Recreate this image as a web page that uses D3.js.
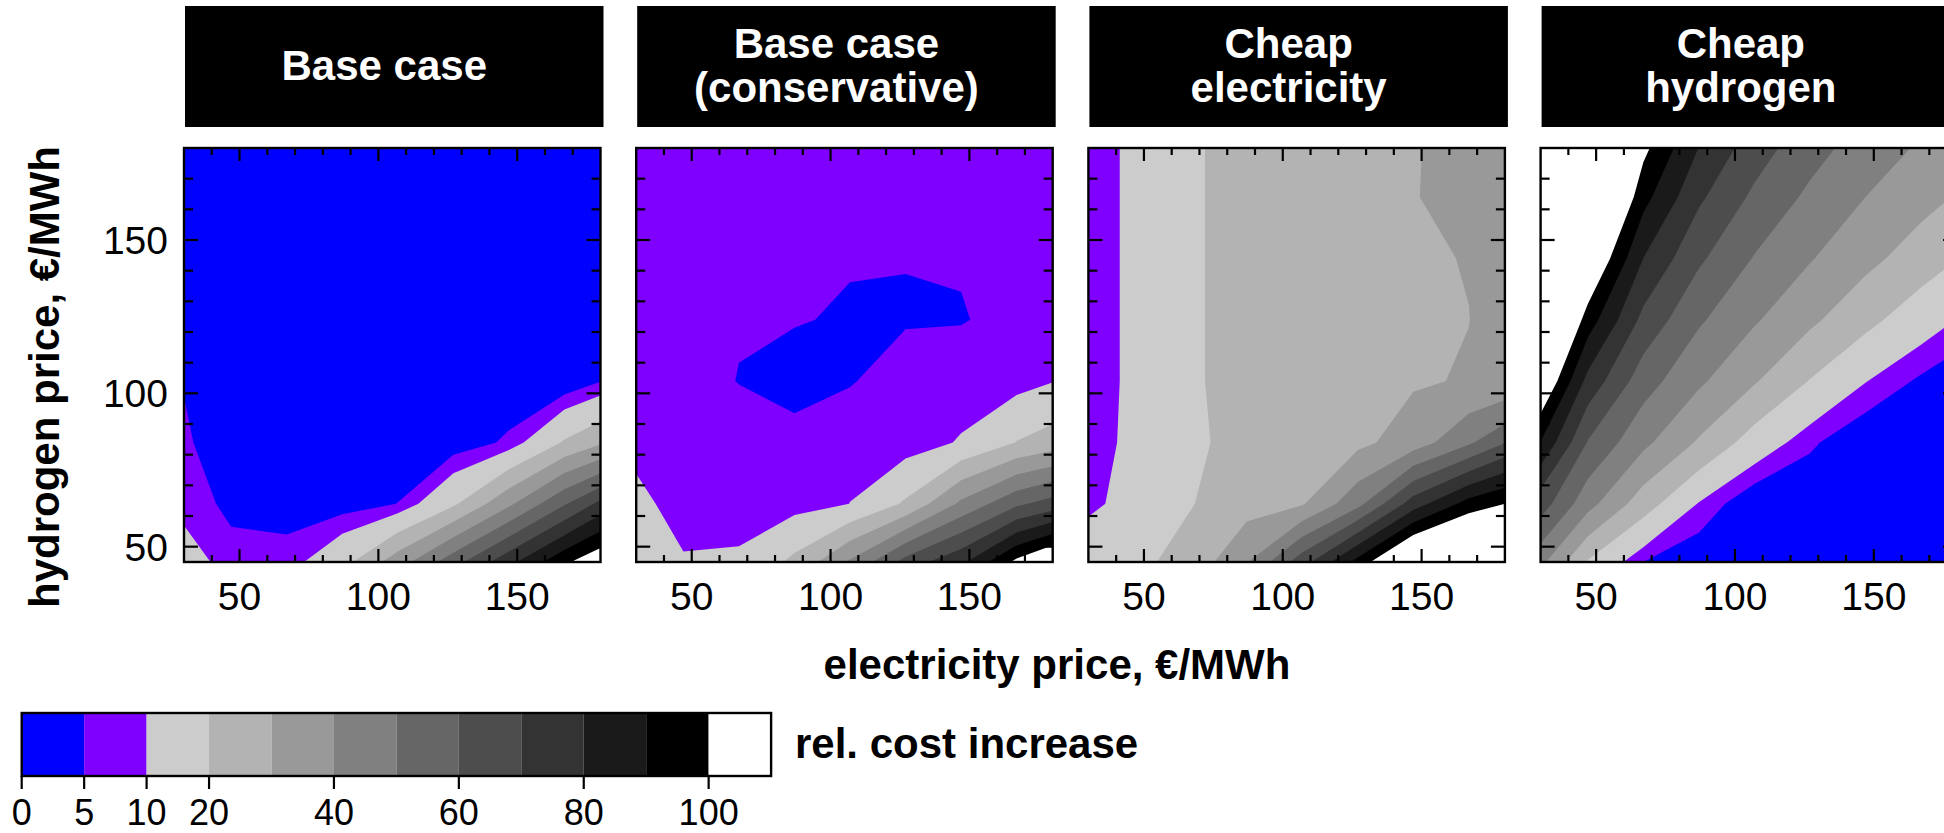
<!DOCTYPE html>
<html>
<head>
<meta charset="utf-8">
<script src="https://cdn.jsdelivr.net/npm/d3@7"></script>
<style>
  body { margin: 0; background: #fff; }
  svg { display: block; }
  text { font-family: "Liberation Sans", Arial, Helvetica, sans-serif; }
</style>
</head>
<body>
<svg id="chart" width="1944" height="833"></svg>
<script>
// Sampling grid of the scenario runs (electricity price / hydrogen price, EUR/MWh)
const elecGrid = [27, 47, 67, 87, 107, 127, 147, 167, 187];
const hydroGrid = [44, 64, 84, 104, 124, 144, 164, 184];

// Relative cost increase (%) on the grid; one row per hydrogen price, low to high
const baseCase = [
  [15, 7.5, 7.5, 18, 37, 58, 79, 100, 115],
  [9, 3.5, 2.5, 2.3, 5.1, 18.3, 38, 59, 80],
  [6.5, 1.8, 1.2, 1.0, 1.2, 1.65, 6, 21, 33],
  [5.3, 2, 1, 0.8, 0.8, 0.8, 1, 0.5, 7.1],
  [3.5, 1.5, 1, 0.8, 0.8, 0.8, 0.8, 1, 3],
  [3, 1.5, 1, 1, 1, 1, 1, 1, 2.5],
  [3, 1.5, 1, 1, 1, 1, 1, 1, 2.5],
  [3, 1.5, 1, 1, 1, 1, 1, 1, 2.5]
];
const baseCaseConservative = [
  [15, 10.85, 11.2, 23.2, 43, 66, 80, 105, 125],
  [13, 7, 7.3, 7, 10.05, 21.3, 42, 58, 68],
  [8.7, 7, 7.4, 5.9, 8.5, 6.0, 10.7, 20.3, 27],
  [7.5, 7, 4.86, 4.0, 4.6, 7.7, 6.0, 7, 11.2],
  [7, 6.5, 5.33, 5.15, 4.75, 4.5, 4.9, 5.5, 7],
  [7, 7, 6.5, 6, 5.16, 5.17, 5.12, 6, 7],
  [7, 7, 7, 7, 7, 7, 7, 7, 7],
  [7, 7, 7, 7, 7, 7, 7, 7, 7]
];
const cheapElectricity = [
  [13.3, 17.95, 23.8, 40.5, 68, 96, 124, 132.7, 150],
  [8.5, 11.8, 19.6, 25.7, 29.1, 46.8, 75, 94, 103.2],
  [8, 11, 18.5, 22.8, 25.5, 27.6, 34.7, 48.3, 65.6],
  [8, 10.8, 19, 23, 25, 27.5, 29, 30.7, 34],
  [8, 10.8, 19, 23, 25, 27.5, 29.3, 29.9, 35],
  [8, 10.8, 19, 23, 25, 27.5, 29, 30.3, 34],
  [8, 10.8, 19, 23, 25, 27.5, 29.8, 31.5, 33],
  [8, 10.8, 19, 23, 25, 27.5, 29.7, 31.5, 33]
];
const cheapHydrogen = [
  [45.6, 17.9, 4, 0, 0, 0, 0, 0, 0],
  [69, 43.6, 24.6, 9.5, 0, 0, 0, 0, 0],
  [95, 59.4, 42.4, 28.8, 15.5, 6.1, 0, 0, 0],
  [119, 76.9, 54.5, 41.7, 30.9, 19.6, 10.3, 3.9, 0],
  [138, 95.3, 67.2, 51.4, 41.1, 32, 22.8, 14.2, 7.4],
  [160, 113.5, 79.9, 61.7, 49.4, 40.7, 32.8, 25.2, 17.6],
  [180, 131.7, 93.4, 71.8, 58.0, 48, 40, 33.4, 27],
  [200, 150, 105, 81.8, 66.6, 55.3, 46.8, 40.1, 33.9]
];

const scenarios = [baseCase, baseCaseConservative, cheapElectricity, cheapHydrogen];
const scenarioTitles = [["Base case"], ["Base case", "(conservative)"], ["Cheap", "electricity"], ["Cheap", "hydrogen"]];

// Contour levels and fills (last band: above 100 %)
const levels = [0, 5, 10, 20, 30, 40, 50, 60, 70, 80, 90, 100];
const levelColors = ["#0000ff", "#8000ff", "#cccccc", "#b3b3b3", "#999999", "#808080",
                     "#666666", "#4d4d4d", "#333333", "#1a1a1a", "#000000", "#ffffff"];
const colorbarTicks = [0, 5, 10, 20, 40, 60, 80, 100];

const xDomain = [30, 180], yDomain = [45, 180];
const xMajor = [50, 100, 150], yMajor = [50, 100, 150];
const xMinor = d3.range(40, 171, 10), yMinor = d3.range(50, 171, 10);

const xTitle = "electricity price, \u20ac/MWh";
const yTitle = "hydrogen price, \u20ac/MWh";
const legendTitle = "rel. cost increase";

// ---- layout ----
const svg = d3.select("#chart");
const panelLeft0 = 184, panelStep = 452.2, panelW = 416.5;
const panelTop = 148, panelH = 414;
const stripTop = 6, stripH = 121;
const FONT_BOLD = 42;

const x = d3.scaleLinear().domain(xDomain).range([0, panelW]);
const y = d3.scaleLinear().domain(yDomain).range([panelH, 0]);
// contour grid coordinates -> prices (each sample sits at the centre of its cell)
const gx = d3.scaleLinear().domain([0.5, elecGrid.length - 0.5]).range([elecGrid[0], elecGrid[elecGrid.length - 1]]);
const gy = d3.scaleLinear().domain([0.5, hydroGrid.length - 0.5]).range([hydroGrid[0], hydroGrid[hydroGrid.length - 1]]);

const contourPath = d3.geoPath(d3.geoTransform({
  point(px, py) { this.stream.point(x(gx(px)), y(gy(py))); }
}));

const contourGen = d3.contours()
  .size([elecGrid.length, hydroGrid.length])
  .thresholds(levels);

scenarios.forEach((grid, p) => {
  const left = panelLeft0 + p * panelStep;

  // strip header
  const strip = svg.append("g").attr("transform", `translate(${left + 1},${stripTop})`);
  strip.append("rect").attr("width", panelW + 2).attr("height", stripH).attr("fill", "#000");
  const lines = scenarioTitles[p];
  const lineGap = 44;
  const firstBase = lines.length === 1 ? 74 : 52;
  lines.forEach((t, i) => {
    strip.append("text")
      .attr("x", (panelW + 2) / 2 - 10)
      .attr("y", firstBase + i * lineGap)
      .attr("text-anchor", "middle")
      .attr("fill", "#fff")
      .attr("font-weight", "bold")
      .attr("font-size", FONT_BOLD)
      .text(t);
  });

  const g = svg.append("g").attr("transform", `translate(${left},${panelTop})`);
  const clipId = `clip${p}`;
  g.append("clipPath").attr("id", clipId)
    .append("rect").attr("width", panelW).attr("height", panelH);

  const values = grid.flat();
  const bands = contourGen(values);
  g.append("g").attr("clip-path", `url(#${clipId})`)
    .selectAll("path")
    .data(bands)
    .join("path")
    .attr("d", contourPath)
    .attr("fill", (d, i) => levelColors[i])
    .attr("stroke", "none");

  // inward ticks on all four sides
  const tickG = g.append("g").attr("stroke", "#000").attr("stroke-width", 2.2);
  xMinor.forEach(v => {
    const len = xMajor.includes(v) ? 13 : 7;
    tickG.append("line").attr("x1", x(v)).attr("x2", x(v)).attr("y1", 0).attr("y2", len);
    tickG.append("line").attr("x1", x(v)).attr("x2", x(v)).attr("y1", panelH).attr("y2", panelH - len);
  });
  yMinor.forEach(v => {
    const len = yMajor.includes(v) ? 14 : 9;
    tickG.append("line").attr("y1", y(v)).attr("y2", y(v)).attr("x1", 0).attr("x2", len);
    tickG.append("line").attr("y1", y(v)).attr("y2", y(v)).attr("x1", panelW).attr("x2", panelW - len);
  });

  g.append("rect").attr("width", panelW).attr("height", panelH)
    .attr("fill", "none").attr("stroke", "#000").attr("stroke-width", 2.4);

  // tick labels
  xMajor.forEach(v => {
    g.append("text").attr("x", x(v)).attr("y", panelH + 47.5)
      .attr("text-anchor", "middle").attr("font-size", 39).text(v);
  });
  if (p === 0) {
    yMajor.forEach(v => {
      g.append("text").attr("x", -16).attr("y", y(v) + 14)
        .attr("text-anchor", "end").attr("font-size", 39).text(v);
    });
  }
});

// axis titles
svg.append("text").attr("x", 1057).attr("y", 679)
  .attr("text-anchor", "middle").attr("font-weight", "bold").attr("font-size", FONT_BOLD)
  .text(xTitle);
svg.append("text")
  .attr("transform", `translate(59,377) rotate(-90)`)
  .attr("text-anchor", "middle").attr("font-weight", "bold").attr("font-size", FONT_BOLD)
  .text(yTitle);

// colour bar legend
const cbLeft = 21.7, cbSeg = 62.45, cbTop = 713, cbH = 63;
const cbDomain = levels.concat([110]);
const cbScale = d3.scaleLinear().domain(cbDomain).range(cbDomain.map((d, i) => cbLeft + i * cbSeg));
const cb = svg.append("g");
cb.selectAll("rect.band")
  .data(levels)
  .join("rect")
  .attr("class", "band")
  .attr("x", (d, i) => cbScale(d))
  .attr("y", cbTop)
  .attr("width", (d, i) => cbScale(cbDomain[i + 1]) - cbScale(d))
  .attr("height", cbH)
  .attr("fill", (d, i) => levelColors[i]);
cb.append("rect").attr("x", cbScale(0)).attr("y", cbTop)
  .attr("width", cbScale(110) - cbScale(0)).attr("height", cbH)
  .attr("fill", "none").attr("stroke", "#000").attr("stroke-width", 2.4);
colorbarTicks.forEach(v => {
  cb.append("line").attr("x1", cbScale(v)).attr("x2", cbScale(v))
    .attr("y1", cbTop + cbH).attr("y2", cbTop + cbH + 13)
    .attr("stroke", "#000").attr("stroke-width", 2.2);
  cb.append("text").attr("x", cbScale(v)).attr("y", 825)
    .attr("text-anchor", "middle").attr("font-size", 36).text(v);
});
cb.append("text").attr("x", 795).attr("y", 758)
  .attr("font-weight", "bold").attr("font-size", FONT_BOLD).text(legendTitle);
</script>
</body>
</html>
